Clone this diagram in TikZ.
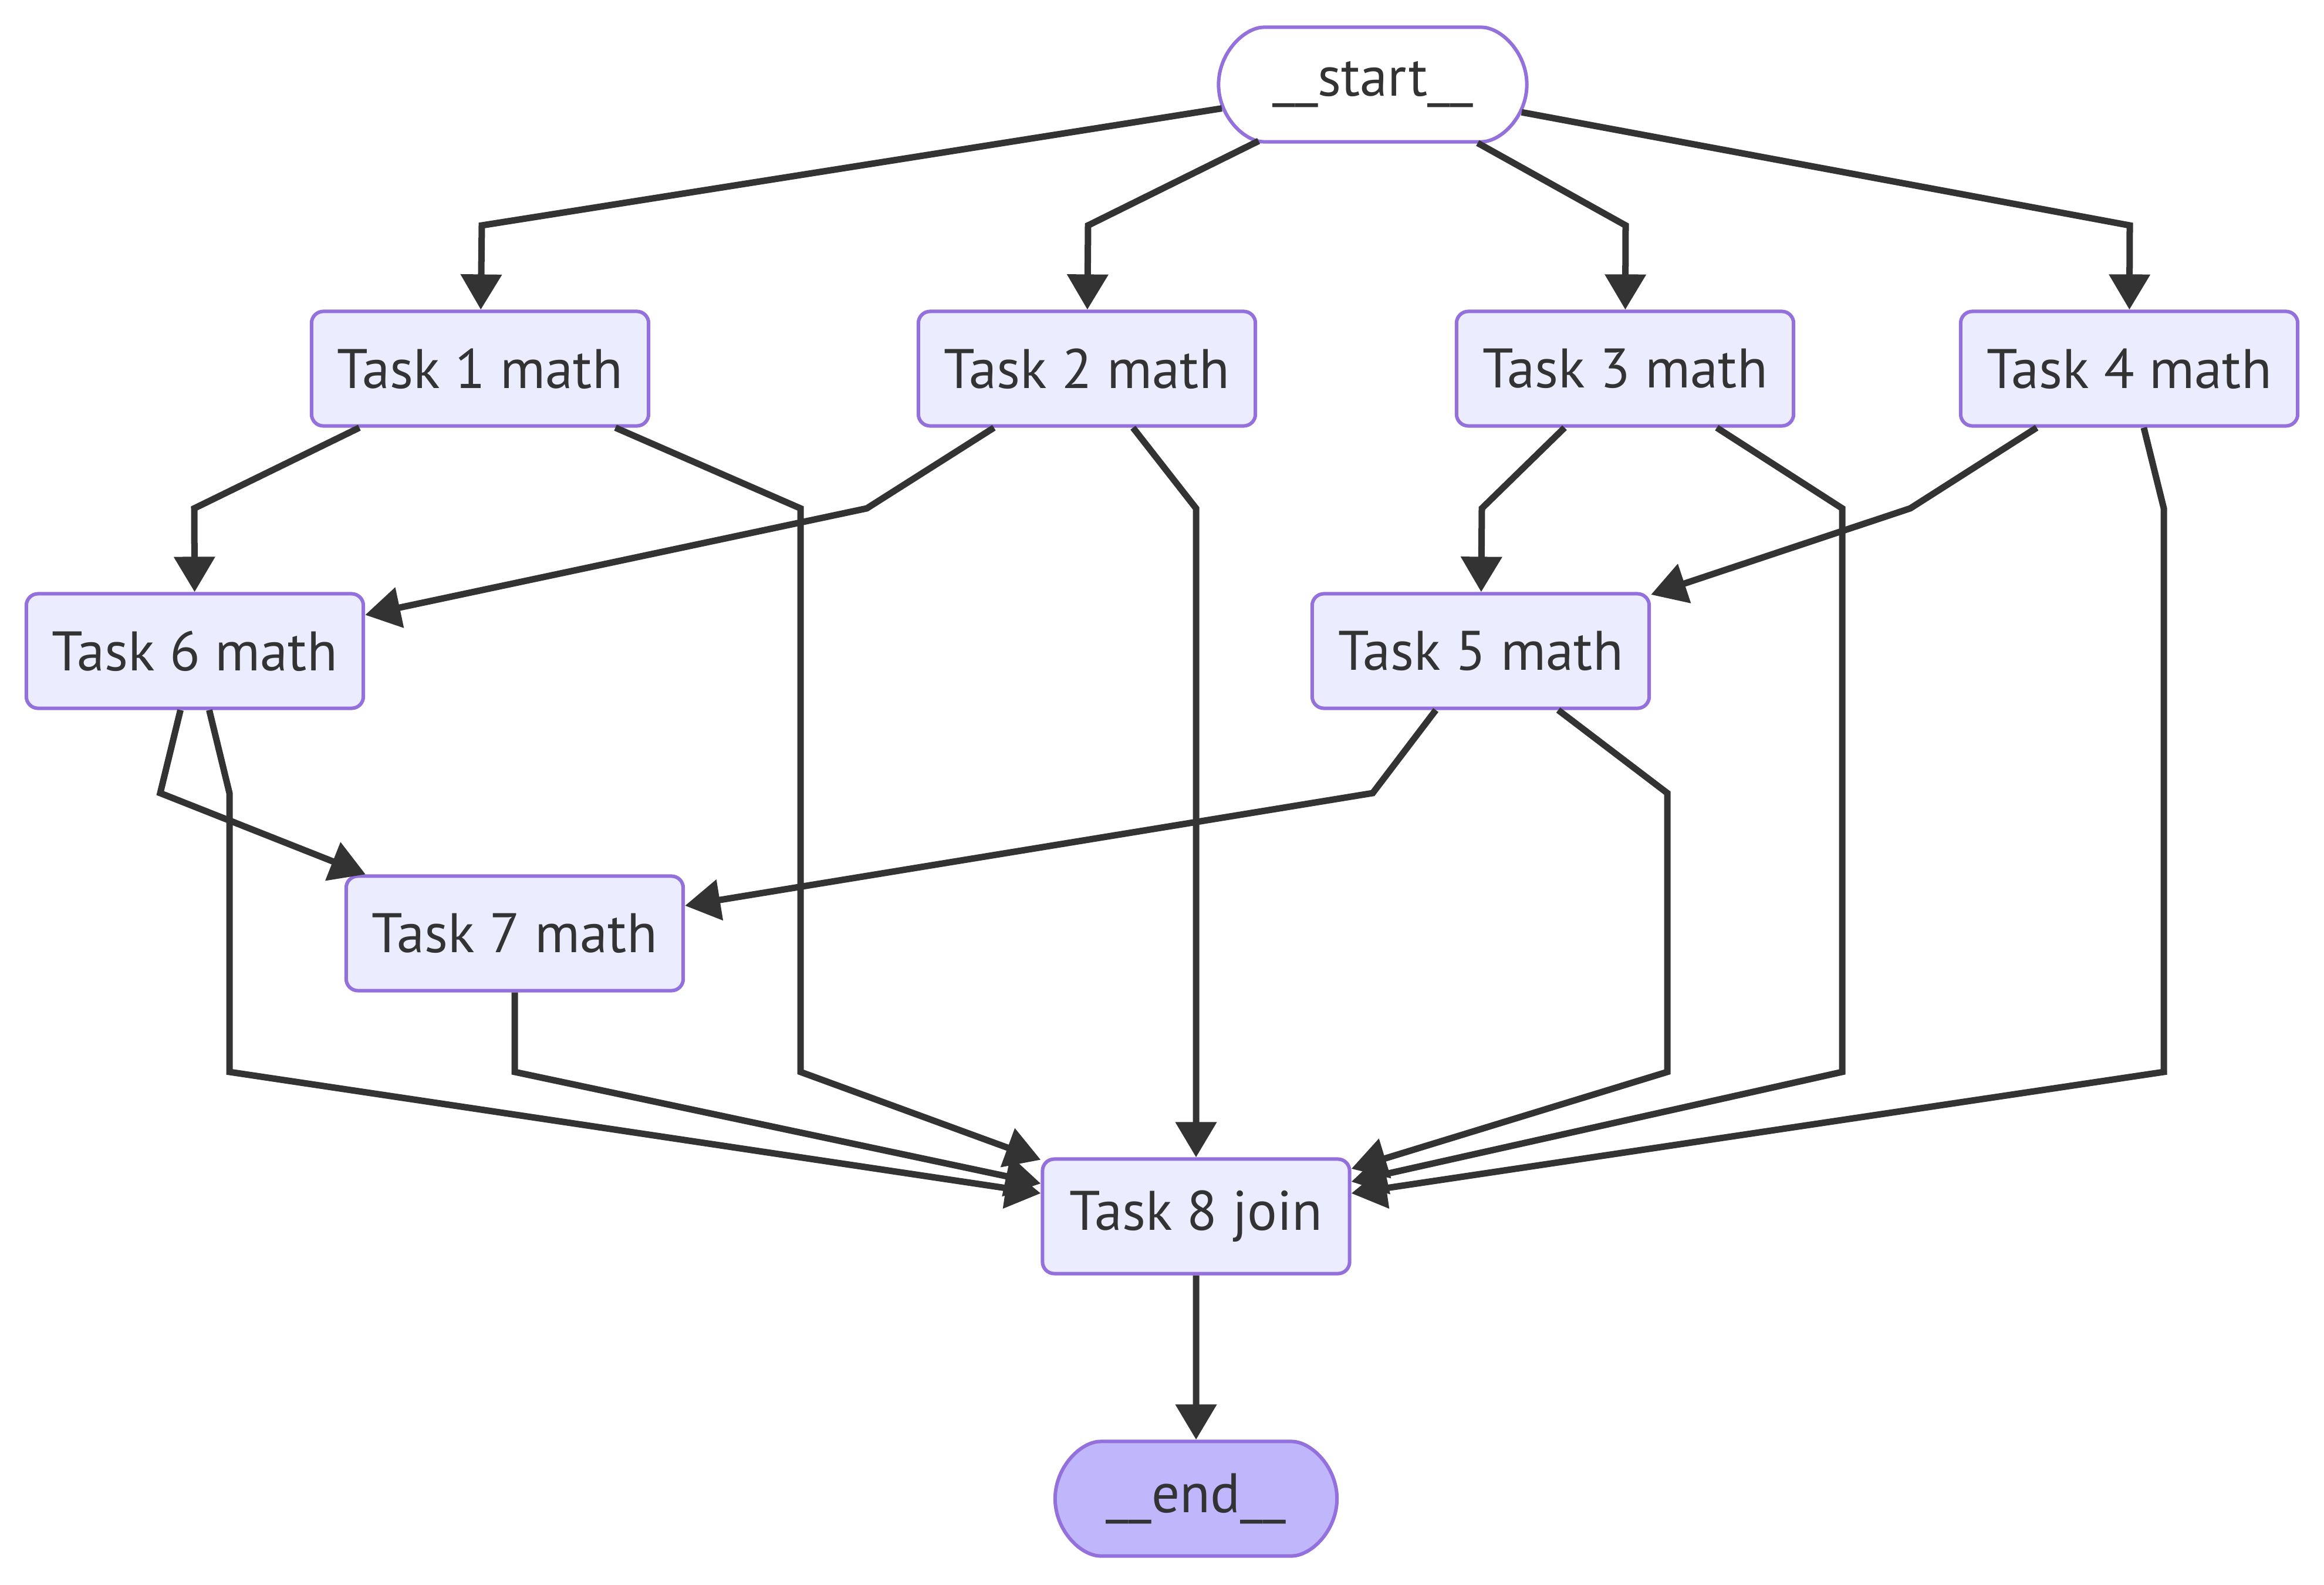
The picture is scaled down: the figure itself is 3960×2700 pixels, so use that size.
\documentclass[tikz,border=0pt]{standalone}
\usepackage{fontspec}
\setmainfont{PT Sans}
\usepackage{tikz}
\usetikzlibrary{arrows.meta,shapes.misc}
\definecolor{nodeline}{HTML}{9370DB}
\definecolor{nodefill}{HTML}{ECECFF}
\definecolor{endfill}{HTML}{BFB6FC}
\definecolor{ink}{HTML}{333333}

\begin{document}
\begin{tikzpicture}[x=0.01cm,y=-0.01cm,->,>={Triangle[length=0.6cm,width=0.68cm]},
draw=ink,line width=0.11cm]
\tikzstyle{every node}=[font=\fontsize{27}{33}\selectfont,text=ink]
\tikzstyle{task}=[draw=nodeline,fill=nodefill,line width=0.06cm,rounded corners=0.2cm,
minimum width=5.74cm,minimum height=1.95cm,inner sep=0pt]
\tikzstyle{terminal}=[task,rounded rectangle,minimum width=5.25cm]
\useasboundingbox (0,0) rectangle (3960,2700);
\node[terminal,fill=white] (0) at (2339,144) {\_\_start\_\_};
\node[task] (1) at (818,628) {Task 1 math};
\node[task] (2) at (1852,628) {Task 2 math};
\node[task] (3) at (2769,628) {Task 3 math};
\node[task] (4) at (3628,628) {Task 4 math};
\node[task] (6) at (332,1109) {Task 6 math};
\node[task] (5) at (2523,1109) {Task 5 math};
\node[task] (7) at (877,1590) {Task 7 math};
\node[task,minimum width=5.23cm] (8) at (2038,2072) {Task 8 join};
\node[terminal,fill=endfill,minimum width=4.8cm] (9) at (2038,2553) {\_\_end\_\_};
% bends
\coordinate (a1) at (821,384);
\coordinate (a2) at (1854,384);
\coordinate (a3) at (2770,384);
\coordinate (a4) at (3629,384);
\coordinate (b16) at (331,866);
\coordinate (b18) at (1364,866);
\coordinate (c18) at (1364,1826);
\coordinate (b26) at (1477,866);
\coordinate (b28) at (2038,866);
\coordinate (b35) at (2525,866);
\coordinate (b38) at (3139,866);
\coordinate (c38) at (3139,1826);
\coordinate (b45) at (3255,866);
\coordinate (b48) at (3687,866);
\coordinate (c48) at (3687,1826);
\coordinate (b67) at (273,1351);
\coordinate (b68) at (391,1351);
\coordinate (c68) at (391,1826);
\coordinate (b57) at (2339,1351);
\coordinate (b58) at (2841,1351);
\coordinate (c58) at (2841,1826);
\coordinate (b78) at (877,1826);
% edges
\draw (0) -- (a1) -- (1);
\draw (0) -- (a2) -- (2);
\draw (0) -- (a3) -- (3);
\draw (0) -- (a4) -- (4);
\draw (1) -- (b16) -- (6);
\draw (1) -- (b18) -- (c18) -- (8);
\draw (2) -- (b26) -- (6);
\draw (2) -- (b28) -- (8);
\draw (3) -- (b35) -- (5);
\draw (3) -- (b38) -- (c38) -- (8);
\draw (4) -- (b45) -- (5);
\draw (4) -- (b48) -- (c48) -- (8);
\draw (6) -- (b67) -- (7);
\draw (6) -- (b68) -- (c68) -- (8);
\draw (5) -- (b57) -- (7);
\draw (5) -- (b58) -- (c58) -- (8);
\draw (7) -- (b78) -- (8);
\draw (8) -- (9);
\end{tikzpicture}
\end{document}
